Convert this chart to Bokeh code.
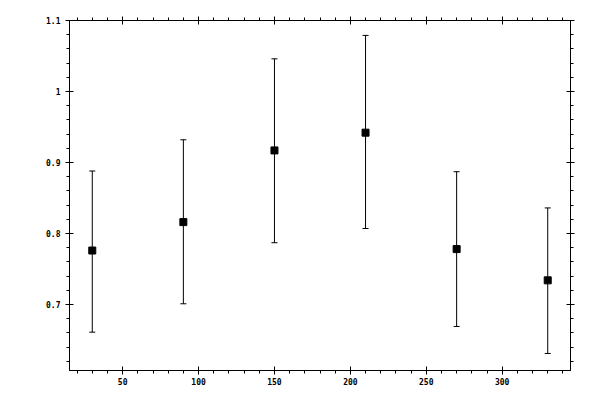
from bokeh.plotting import figure
from bokeh.models import (ColumnDataSource, Whisker, TeeHead, LinearAxis,
                          SingleIntervalTicker, CustomJSTickFormatter, Range1d)
from bokeh.embed import file_html
from bokeh.resources import INLINE

# data
x_vals = [30, 90, 150, 210, 270, 330]
y_vals = [0.776, 0.816, 0.917, 0.942, 0.778, 0.734]
y_upper = [0.888, 0.932, 1.046, 1.079, 0.887, 0.836]
y_lower = [0.661, 0.701, 0.787, 0.807, 0.669, 0.631]

source = ColumnDataSource(dict(x=x_vals, y=y_vals, upper=y_upper, lower=y_lower))

p = figure(width=592, height=392, output_backend="svg", toolbar_location=None,
           x_range=Range1d(15, 345), y_range=Range1d(0.607, 1.1),
           x_axis_location=None, y_axis_location=None,
           min_border_left=69, min_border_right=22, min_border_top=20, min_border_bottom=22)
p.xgrid.visible = False
p.ygrid.visible = False
p.outline_line_color = "black"
p.outline_line_width = 1
p.background_fill_color = "white"
p.border_fill_color = "white"

fmt = CustomJSTickFormatter(code="return (Math.round(tick*10)/10).toString();")
blank = CustomJSTickFormatter(code="return '';")

def style(ax, show, standoff=5):
    ax.axis_line_color = "black"
    ax.major_tick_line_color = "black"
    ax.minor_tick_line_color = "black"
    ax.major_tick_in = 4
    ax.major_tick_out = 4
    ax.minor_tick_in = 0
    ax.minor_tick_out = 3
    ax.major_label_text_font = "DejaVu Sans Mono"
    ax.major_label_text_font_style = "bold"
    ax.major_label_text_font_size = "8px" if show else "0px"
    ax.major_label_text_color = "black"
    ax.major_label_standoff = standoff if show else 0

for loc in ["below", "above"]:
    ax = LinearAxis(ticker=SingleIntervalTicker(interval=50, num_minor_ticks=5),
                    formatter=fmt if loc == "below" else blank)
    style(ax, loc == "below", standoff=3)
    p.add_layout(ax, loc)

for loc in ["left", "right"]:
    ax = LinearAxis(ticker=SingleIntervalTicker(interval=0.1, num_minor_ticks=5),
                    formatter=fmt if loc == "left" else blank)
    style(ax, loc == "left", standoff=5)
    p.add_layout(ax, loc)

w = Whisker(source=source, base="x", upper="upper", lower="lower",
            line_color="black", line_width=1,
            upper_head=TeeHead(size=6, line_color="black", line_width=1),
            lower_head=TeeHead(size=6, line_color="black", line_width=1))
p.add_layout(w)

p.scatter("x", "y", source=source, marker="square", size=7,
          fill_color="black", line_color="black")

open("out.html", "w").write(file_html(p, INLINE))
